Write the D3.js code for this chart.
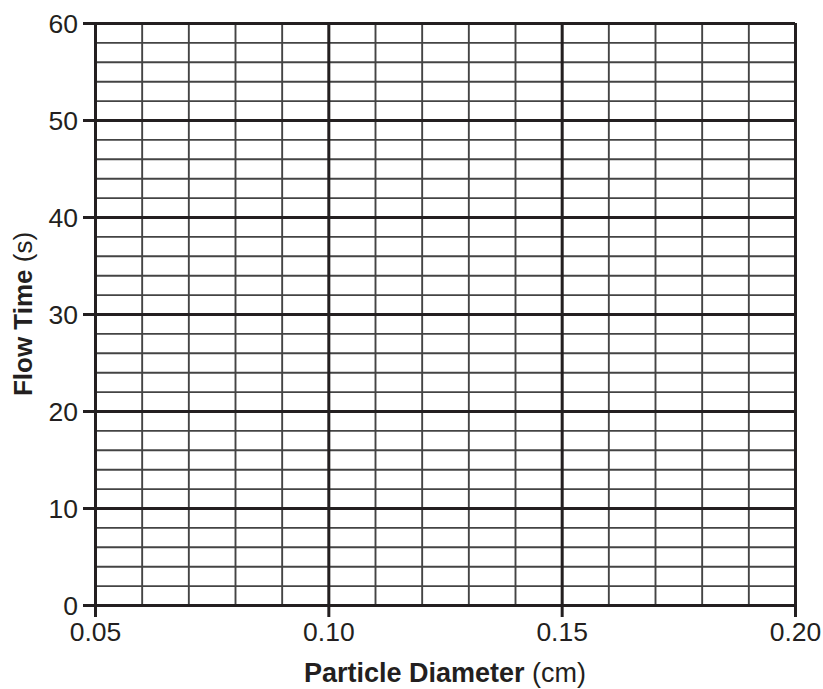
<!DOCTYPE html>
<html>
<head>
<meta charset="utf-8">
<script src="https://cdn.jsdelivr.net/npm/d3@7"></script>
<style>
  body { margin: 0; background: #fff; }
  svg text { font-family: "Liberation Sans", Arial, Helvetica, sans-serif; fill: #231f20; }
  .grid .domain { display: none; }
  .minor line { stroke: #444; stroke-width: 1.9; }
  .major line { stroke: #231f20; stroke-width: 3; }
</style>
</head>
<body>
<div id="chart"></div>
<script>
// axis ranges and labelled ticks
const xDomain = [0.05, 0.20];
const yDomain = [0, 60];
const xTickValues = [0.05, 0.10, 0.15, 0.20];
const yTickValues = [0, 10, 20, 30, 40, 50, 60];
const xMinorStep = 0.01;   // one small square across
const yMinorStep = 2;      // one small square up
const xLabel = ["Particle Diameter", " (cm)"];
const yLabel = ["Flow Time", " (s)"];

const W = 823, H = 689;
const margin = {top: 23, right: 28, bottom: 84, left: 95};
const width  = W - margin.left - margin.right;
const height = H - margin.top - margin.bottom;

const svg = d3.select("#chart").append("svg")
    .attr("width", W)
    .attr("height", H);

const g = svg.append("g")
    .attr("transform", "translate(" + margin.left + "," + margin.top + ")");

const x = d3.scaleLinear().domain(xDomain).range([0, width]);
const y = d3.scaleLinear().domain(yDomain).range([height, 0]);

const xMinor = x.ticks(Math.round((xDomain[1] - xDomain[0]) / xMinorStep));
const yMinor = y.ticks(Math.round((yDomain[1] - yDomain[0]) / yMinorStep));

//minor grid
g.append("g")
    .attr("class", "grid minor")
    .attr("transform", "translate(0," + height + ")")
    .call(d3.axisBottom(x).tickValues(xMinor).tickSize(-height).tickFormat(""));
g.append("g")
    .attr("class", "grid minor")
    .call(d3.axisLeft(y).tickValues(yMinor).tickSize(-width).tickFormat(""));

//major grid (also gives the frame)
g.append("g")
    .attr("class", "grid major")
    .attr("transform", "translate(0," + height + ")")
    .call(d3.axisBottom(x).tickValues(xTickValues).tickSize(-height).tickFormat(""));
g.append("g")
    .attr("class", "grid major")
    .call(d3.axisLeft(y).tickValues(yTickValues).tickSize(-width).tickFormat(""));

//labelled axes with outside ticks
const xAxis = g.append("g")
    .attr("class", "axis")
    .attr("transform", "translate(0," + height + ")")
    .call(d3.axisBottom(x).tickValues(xTickValues).tickSize(12).tickPadding(5)
        .tickFormat(d3.format(".2f")));

const yAxis = g.append("g")
    .attr("class", "axis")
    .call(d3.axisLeft(y).tickValues(yTickValues).tickSize(12).tickPadding(5)
        .tickFormat(d3.format("d")));

g.selectAll(".axis .domain").remove();
g.selectAll(".axis line").attr("stroke", "#231f20").attr("stroke-width", 3);
g.selectAll(".axis text").attr("font-size", 26.5).attr("fill", "#231f20");
yAxis.selectAll("text").attr("dy", "0.34em");

// axis titles: bold name, plain unit
const xt = svg.append("text")
    .attr("x", margin.left + width / 2)
    .attr("y", 682)
    .attr("text-anchor", "middle")
    .attr("font-size", 27);
xt.append("tspan").attr("font-weight", "bold").text(xLabel[0]);
xt.append("tspan").text(xLabel[1]);

const yt = svg.append("text")
    .attr("transform", "translate(32," + (margin.top + height / 2) + ") rotate(-90)")
    .attr("text-anchor", "middle")
    .attr("font-size", 26);
yt.append("tspan").attr("font-weight", "bold").text(yLabel[0]);
yt.append("tspan").text(yLabel[1]);
</script>
</body>
</html>
